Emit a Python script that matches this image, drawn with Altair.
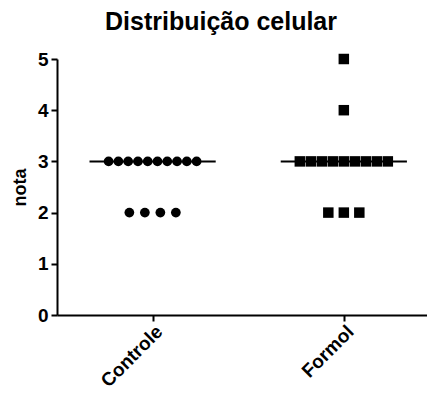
import altair as alt
import pandas as pd

groups = ["Controle", "Formol"]
group_pos = [1, 3]
controle_values = [3, 3, 3, 3, 3, 3, 3, 3, 3, 3, 2, 2, 2, 2]
formol_values = [5, 4, 3, 3, 3, 3, 3, 3, 3, 3, 3, 2, 2, 2]
medians = [3, 3]

W = 370
H = 256
XMAX = 3.87
px_per_unit = W / XMAX

rows = []
for g, pos, vals in zip(groups, group_pos, [controle_values, formol_values]):
    s = pd.Series(vals)
    for v, cnt in s.value_counts().items():
        step_px = min(15.5, 88 / (cnt - 1)) if cnt > 1 else 0
        for i in range(cnt):
            off = (i - (cnt - 1) / 2) * step_px / px_per_unit
            rows.append({"group": g, "x": pos + off, "nota": v})
df = pd.DataFrame(rows)

med = pd.DataFrame({"group": groups, "x": [p - 0.66 for p in group_pos],
                    "x2": [p + 0.66 for p in group_pos], "nota": medians})

FONT = "Liberation Sans"

xscale = alt.Scale(domain=[0, XMAX], nice=False, zero=False)
yscale = alt.Scale(domain=[0, 5], nice=False)

xaxis = alt.Axis(values=group_pos, labelExpr="datum.value == 1 ? 'Controle' : 'Formol'",
                 labelAngle=-45, labelAlign="right", labelBaseline="top",
                 title=None, labelPadding=1, labelFontSize=19)
yaxis = alt.Axis(values=[0, 1, 2, 3, 4, 5], format="d", title="nota",
                 titlePadding=8, labelPadding=3, labelFontSize=19, titleFontSize=18)

rule = alt.Chart(med).mark_rule(color="black", strokeWidth=2).encode(
    x=alt.X("x:Q", scale=xscale, axis=xaxis),
    x2="x2:Q",
    y=alt.Y("nota:Q", scale=yscale, axis=yaxis),
)

pts = alt.Chart(df).mark_point(filled=True, opacity=1).encode(
    x=alt.X("x:Q", scale=xscale, axis=xaxis),
    y=alt.Y("nota:Q", scale=yscale, axis=yaxis),
    shape=alt.Shape("group:N", scale=alt.Scale(domain=groups, range=["circle", "square"]), legend=None),
    size=alt.Size("group:N", scale=alt.Scale(domain=groups, range=[95, 110]), legend=None),
    color=alt.value("black"),
)

chart = alt.layer(rule, pts).properties(
    width=W, height=H,
    title=alt.TitleParams("Distribuição celular", font=FONT, fontSize=25, fontWeight="bold",
                          color="black", anchor="middle", dx=-21, offset=15),
    padding={"left": 49, "top": 51, "right": 0, "bottom": 72},
    autosize=alt.AutoSizeParams(type="none"),
).configure_view(stroke=None).configure_axis(
    labelFont=FONT, labelFontWeight="bold", labelColor="black",
    titleFont=FONT, titleFontWeight="bold", titleColor="black",
    tickColor="black", tickWidth=2, tickSize=6, domainColor="black", domainWidth=2,
    grid=False,
)

chart.save("out.html", embed_options={"renderer": "svg", "actions": False})
